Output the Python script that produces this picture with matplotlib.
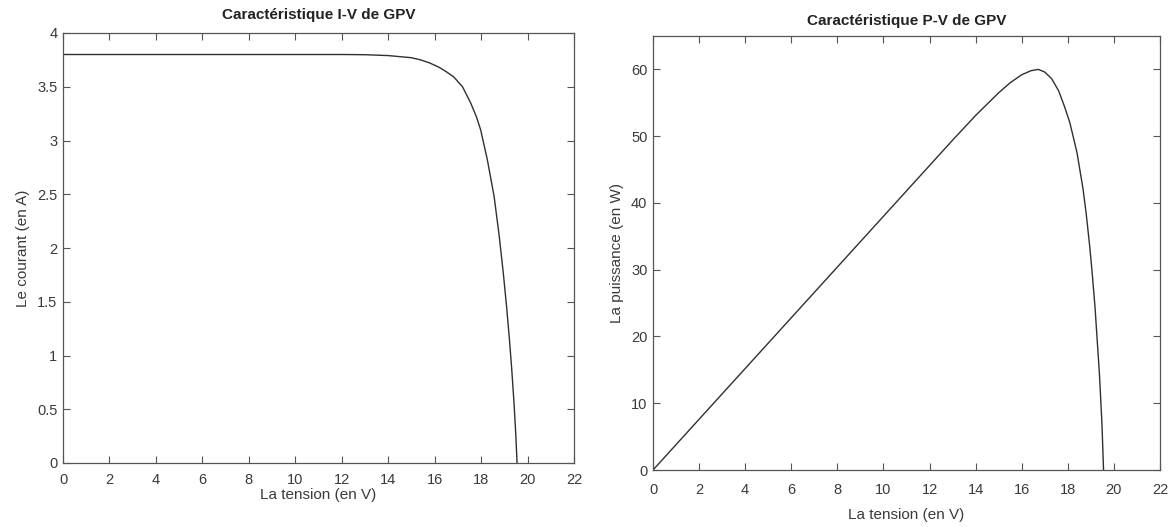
import matplotlib
matplotlib.use("Agg")
import matplotlib.pyplot as plt

# ---- data ----
iv_voltage = [0, 4, 8, 12, 13, 14, 14.5, 15, 15.4, 15.8, 16.2, 16.5, 16.83, 17.2,
              17.55, 17.8, 17.98, 18.27, 18.56, 18.77, 18.95, 19.1, 19.22, 19.32,
              19.42, 19.49, 19.55]
iv_current = [3.80, 3.80, 3.80, 3.80, 3.798, 3.79, 3.78, 3.77, 3.75, 3.72, 3.68, 3.64,
              3.59, 3.50, 3.35, 3.22, 3.10, 2.82, 2.48, 2.13, 1.78, 1.45, 1.15, 0.87,
              0.55, 0.28, 0.0]

pv_voltage = [0, 4, 8, 12, 13, 14, 15, 15.5, 16, 16.4, 16.72, 17.0, 17.3, 17.6,
              17.85, 18.09, 18.4, 18.66, 18.8, 18.95, 19.05, 19.18, 19.37, 19.48, 19.55]
pv_power = [0, 15.2, 30.4, 45.6, 49.4, 53.1, 56.5, 58.0, 59.2, 59.8, 60.0, 59.6,
            58.6, 56.8, 54.5, 52.0, 47.5, 42.1, 38.3, 33.5, 29.8, 24.4, 14.5, 7.0, 0.0]

iv_xticks = list(range(0, 23, 2))
iv_yticks = [0, 0.5, 1, 1.5, 2, 2.5, 3, 3.5, 4]
iv_yticklabels = ['0', '0.5', '1', '1.5', '2', '2.5', '3', '3.5', '4']
pv_xticks = list(range(0, 23, 2))
pv_yticks = [0, 10, 20, 30, 40, 50, 60]

titles = ["Caractéristique I-V de GPV", "Caractéristique P-V de GPV"]
xlabels = ["La tension (en V)", "La tension (en V)"]
ylabels = ["Le courant (en A)", "La puissance (en W)"]

plt.rcParams['font.family'] = ['Liberation Sans', 'DejaVu Sans']
W, H = 1176, 527
fig = plt.figure(figsize=(W / 100, H / 100), dpi=100)

txt = '#3a3a3a'
spine_c = '#555555'
line_c = '#303030'

def make_ax(l, t, r, b):
    return fig.add_axes([l / W, 1 - b / H, (r - l) / W, (b - t) / H])

ax1 = make_ax(63, 33, 574, 463)
ax2 = make_ax(653, 36, 1160, 470)

ax1.plot(iv_voltage, iv_current, color=line_c, lw=1.0)
ax2.plot(pv_voltage, pv_power, color=line_c, lw=1.0)

ax1.set_xlim(0, 22); ax1.set_ylim(0, 4)
ax1.set_xticks(iv_xticks); ax1.set_yticks(iv_yticks)
ax1.set_yticklabels(iv_yticklabels)
ax2.set_xlim(0, 22); ax2.set_ylim(0, 65)
ax2.set_xticks(pv_xticks); ax2.set_yticks(pv_yticks)

settings = [
    dict(title_pad=10, xpad=7.5, xlabelpad=0.5),
    dict(title_pad=8, xpad=9, xlabelpad=8),
]

for ax, ti, xl, yl, st in zip([ax1, ax2], titles, xlabels, ylabels, settings):
    ax.set_title(ti, fontsize=11, fontweight='bold', color='#222222', pad=st['title_pad'])
    ax.set_xlabel(xl, fontsize=11, color=txt, labelpad=st['xlabelpad'])
    ax.set_ylabel(yl, fontsize=11, color=txt, labelpad=5)
    ax.tick_params(direction='in', length=5, width=0.8, colors=spine_c,
                   labelcolor=txt, labelsize=10.5, top=True, right=True, pad=4)
    ax.tick_params(axis='x', pad=st['xpad'])
    for s in ax.spines.values():
        s.set_color(spine_c)
        s.set_linewidth(0.9)

fig.savefig('out.png', dpi=100, facecolor='white')
